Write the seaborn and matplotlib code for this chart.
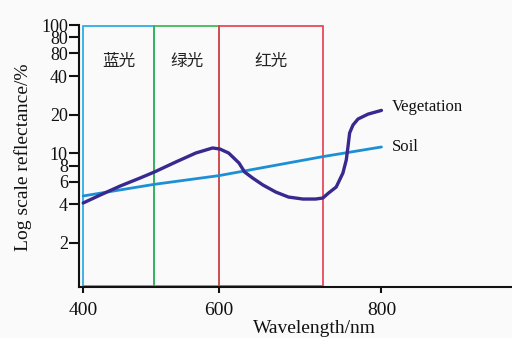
import numpy as np
import pandas as pd
import matplotlib.pyplot as plt
from matplotlib.patches import Rectangle
from matplotlib.ticker import NullLocator
import seaborn as sns

# reflectance curves (wavelength in nm, reflectance in %)
veg_nm = [400, 424, 452, 480, 500, 533, 564, 590, 601, 612, 625, 632, 642, 655, 671,
          687, 705, 721, 730, 737, 746, 754, 758, 760, 762, 766, 772, 784, 800]
veg_refl = [4.10, 4.73, 5.56, 6.42, 7.15, 8.55, 10.05, 11.0, 10.8, 10.05, 8.40, 7.15, 6.42, 5.66, 4.99,
            4.56, 4.40, 4.40, 4.48, 4.91, 5.46, 7.02, 8.87, 11.2, 14.4, 16.6, 18.5, 20.2, 21.6]
soil_nm = [400, 500, 600, 730, 800]
soil_refl = [4.65, 5.73, 6.7, 9.42, 11.2]

# spectral bands
band_names = ['蓝光', '绿光', '红光']
band_lo = [400, 500, 600]
band_hi = [500, 600, 730]
band_colors = ['#1ea7e4', '#33b54a', '#e83a4f']

# axis ticks (labels as printed in the original)
yticks = [2, 4, 6, 8, 10, 20, 40, 60, 80, 100]
ytick_labels = ['2', '4', '6', '8', '10', '20', '40', '80', '80', '100']
xticks = [400, 600, 800]

# the original x axis is not evenly spaced, so use a piecewise scale
axis_nm = [390, 400, 500, 600, 730, 800, 1000]
axis_u = [76, 83, 154, 218.5, 322, 380.5, 540]

def fwd(x):
    return np.interp(x, axis_nm, axis_u)

def inv(u):
    return np.interp(u, axis_u, axis_nm)

sns.set_theme(style='ticks')
plt.rcParams['font.family'] = ['Liberation Serif', 'Noto Sans CJK SC']
plt.rcParams['axes.linewidth'] = 1.5

fig = plt.figure(figsize=(5.12, 3.38), dpi=100, facecolor='#fafafa')
ax = fig.add_axes([0.1543, 0.151, 0.8437, 0.7765])
ax.set_facecolor('#fafafa')

df_veg = pd.DataFrame({'nm': veg_nm, 'refl': veg_refl})
df_soil = pd.DataFrame({'nm': soil_nm, 'refl': soil_refl})
sns.lineplot(data=df_veg, x='nm', y='refl', ax=ax, color='#38298f', lw=2.4, zorder=4)
sns.lineplot(data=df_soil, x='nm', y='refl', ax=ax, color='#1d8fd5', lw=2.0, zorder=3)

ax.set_xscale('function', functions=(fwd, inv))
ax.set_yscale('log')
ax.set_xlim(394, 962)
ax.set_ylim(0.908, 100.9)

for name, lo, hi, c in zip(band_names, band_lo, band_hi, band_colors):
    ax.add_patch(Rectangle((lo, 0.93), hi - lo, 98 - 0.93, fill=False,
                           edgecolor=c, lw=1.2, zorder=2))
    ax.text((lo + hi) / 2, 52, name, ha='center', va='center', fontsize=12,
            family=['Noto Sans CJK SC'], color='#222222')

ax.text(813, 23, 'Vegetation', ha='left', va='center', fontsize=12, color='#111111')
ax.text(813, 11.2, 'Soil', ha='left', va='center', fontsize=12, color='#111111')

ax.set_yticks(yticks)
ax.set_yticklabels(ytick_labels)
ax.yaxis.set_minor_locator(NullLocator())
ax.set_xticks(xticks)
ax.set_xticklabels([str(t) for t in xticks])
ax.xaxis.set_minor_locator(NullLocator())
ax.tick_params(axis='y', length=7, width=1.5, pad=1, labelsize=13, colors='#111111')
ax.tick_params(axis='x', length=4.5, width=1.5, pad=6, labelsize=14, colors='#111111')

ax.set_xlabel('Wavelength/nm', fontsize=14, color='#111111', va='top')
ax.set_ylabel('Log scale reflectance/%', fontsize=14, color='#111111')
ax.xaxis.set_label_coords(0.546, -0.126)
ax.yaxis.set_label_coords(-0.109, 0.495)

sns.despine(ax=ax)
for s in ['left', 'bottom']:
    ax.spines[s].set_color('#111111')

fig.savefig('out.png', dpi=100, facecolor=fig.get_facecolor())
